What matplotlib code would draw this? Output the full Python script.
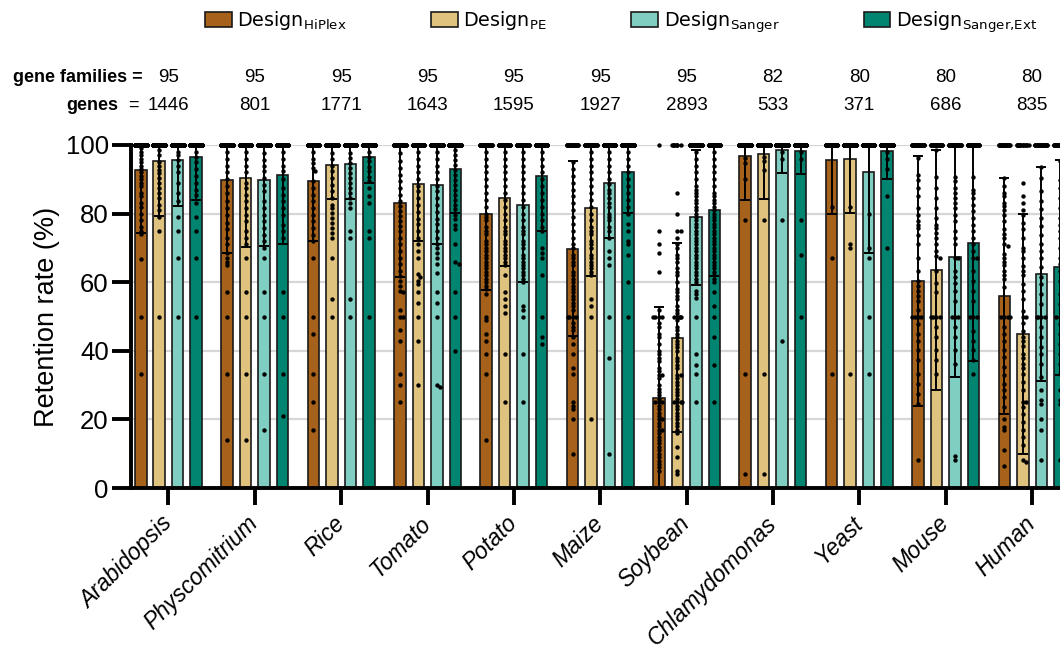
import numpy as np
import matplotlib
matplotlib.use("Agg")
import matplotlib.pyplot as plt
from matplotlib.patches import Patch

# ---------------- data ----------------
species = ["Arabidopsis", "Physcomitrium", "Rice", "Tomato", "Potato", "Maize",
           "Soybean", "Chlamydomonas", "Yeast", "Mouse", "Human"]
gene_families = [95, 95, 95, 95, 95, 95, 95, 82, 80, 80, 80]
genes = [1446, 801, 1771, 1643, 1595, 1927, 2893, 533, 371, 686, 835]

design_labels = [r"Design$_{\mathregular{HiPlex}}$", r"Design$_{\mathregular{PE}}$",
                 r"Design$_{\mathregular{Sanger}}$", r"Design$_{\mathregular{Sanger{,}Ext}}$"]
design_colors = ["#A6611A", "#DFC27D", "#80CDC1", "#018571"]

# mean retention rate (%) per species
mean_hiplex = [92.6, 89.8, 89.5, 83.0, 80.0, 69.7, 26.3, 96.9, 95.7, 60.4, 56.1]
mean_pe     = [95.3, 90.5, 94.1, 88.5, 84.5, 81.7, 43.8, 97.3, 95.8, 63.6, 44.8]
mean_sanger = [95.7, 89.7, 94.4, 88.4, 82.4, 88.8, 78.9, 98.4, 92.2, 67.3, 62.4]
mean_ext    = [96.4, 91.3, 96.4, 92.9, 90.9, 92.2, 81.0, 98.3, 98.2, 71.3, 64.3]

# standard deviation (%)
sd_hiplex = [18.2, 21.2, 17.6, 21.4, 22.3, 25.5, 26.6, 12.9, 15.8, 36.5, 34.4]
sd_pe     = [16.0, 20.2, 9.8, 16.5, 19.8, 19.8, 27.5, 13.0, 15.6, 35.0, 35.0]
sd_sanger = [13.4, 19.2, 10.1, 17.3, 22.4, 16.0, 19.7, 6.5, 23.8, 34.9, 31.1]
sd_ext    = [12.4, 20.3, 7.4, 12.8, 16.0, 11.9, 19.2, 6.8, 8.2, 34.3, 31.3]

# number of gene families with full (100 %) retention
n100_hiplex = [60, 55, 55, 40, 35, 22, 1, 75, 72, 30, 20]
n100_pe     = [65, 55, 60, 45, 40, 35, 8, 75, 72, 30, 15]
n100_sanger = [70, 58, 65, 45, 40, 50, 40, 78, 68, 35, 22]
n100_ext    = [75, 60, 75, 55, 55, 60, 40, 78, 76, 38, 25]

# retention rates (%) of the remaining gene families
dots_hiplex = [
    [99, 98, 97, 96, 95, 94, 93, 92, 91, 90, 89, 88, 86, 85, 83, 82, 80, 78, 76, 75, 74, 66.7, 50, 33.3],
    [98, 96, 94, 92, 90, 88, 86, 83.6, 81.6, 79.7, 77.3, 75.4, 73, 71, 68.6, 67, 66, 65, 57, 50, 33.3, 14],
    [98, 96, 94.7, 93.2, 92.3, 89.4, 87.4, 85.5, 83.6, 81.6, 79.7, 77.8, 75.8, 73.9, 72, 67, 50, 45, 33.3, 25, 17],
    [97.6, 95.2, 93.2, 91.3, 89.4, 87.4, 85.5, 83.6, 82.1, 80.7, 79.2, 77.8, 76.3, 74.9, 72.9, 71.0, 69.1,
     67.1, 65.2, 63.3, 61.8, 60.4, 58.9, 57.5, 57.0, 52, 50, 50, 46, 43, 33.3, 30, 25],
    [98, 96, 94, 92, 90, 88, 86, 84, 82, 80, 79, 78, 76, 75, 74, 72, 71, 70, 69, 68, 67, 66, 65, 64, 63,
     62, 61, 60, 59, 58, 56.5, 50, 49, 45, 43, 39, 33.3, 14],
    [95, 93, 91, 89, 87, 85, 83, 81, 79, 77, 75, 73, 71, 70, 68, 67, 66, 65, 63, 62, 61, 60, 59, 58, 57,
     56, 55, 54, 53, 52, 50, 50, 50, 50, 48, 47, 46, 44, 42, 39, 35, 33.3, 25, 24, 23, 20, 10],
    [75, 71, 68.6, 63, 52, 50, 50, 50, 50, 48, 47, 45, 44, 42, 40, 39, 38, 37, 35, 34, 33, 33, 32, 30,
     29, 28, 27, 26, 25, 25, 25, 24, 23, 22, 21, 20, 20, 19, 18, 17, 17, 16, 15, 14, 13, 12, 11, 10, 9,
     8, 7, 6, 5],
    [96.3, 94.7, 90, 78, 33.3, 4],
    [82, 67, 33.3],
    [96.1, 91.3, 89.9, 87.4, 85.0, 81.6, 79.7, 77.8, 76.8, 75.8, 73.9, 71.0, 67.0, 63.3, 60.4, 58.9, 57.5,
     56.0, 54.6, 52.0, 50, 50, 50, 50, 47.8, 44.9, 43.0, 40.1, 37.2, 33.3, 30.4, 27.5, 24.6, 8.2],
    [90.3, 88, 86, 85, 83.1, 82.1, 81, 79.7, 77.8, 75.4, 74, 72.9, 71, 70.5, 68.1, 67.1, 66, 65, 63.3, 62,
     60.9, 58.5, 50, 50, 50, 50, 46.9, 44.9, 43.0, 40.1, 38.2, 35.3, 32.9, 30.4, 28.5, 26.6, 23.7, 20.0,
     17.9, 16.9, 11.1, 6.3],
]
dots_pe = [
    [98.5, 97, 95, 94, 92.8, 91.8, 90.3, 89, 87.4, 86, 84.5, 82.6, 81, 79, 75, 50],
    [98, 96, 94, 92, 89, 87.4, 85.5, 83.6, 81.6, 79.7, 77.8, 75, 73, 71, 67, 57, 50, 33.3, 14],
    [97.6, 96, 94, 92.3, 90.3, 88.4, 86.5, 84.5, 82.6, 81.6, 80.2, 78.7, 77.3, 75.8, 74.4, 73, 67, 55, 50],
    [98, 96, 94, 92, 90, 88, 86.5, 84.5, 82.5, 80.5, 78.5, 77, 75, 73, 71, 69, 67, 62.3, 61.4, 60.4, 59.4,
     57, 54, 50, 43, 30],
    [98, 96, 94, 92, 90, 88, 86, 84, 82, 80, 78, 76, 75, 74, 72, 71, 70, 69, 68, 67, 66, 65, 62, 57, 55,
     53, 51, 39, 25],
    [98, 96, 94, 92, 90, 88, 86, 84, 82, 80, 78, 76, 75, 74, 72, 71, 70, 68, 67, 66, 65, 64, 63, 62, 55,
     53, 50, 20],
    [86, 80, 75, 75, 73, 71, 70, 68, 67, 66, 64, 63, 62, 60, 58, 57, 56, 55, 53, 52, 51, 50, 50, 50, 50,
     50, 49, 47, 46, 45, 44, 43, 42, 41, 40, 38, 37, 36, 35, 33, 33, 32, 31, 30, 29, 28, 27, 26, 25, 25,
     25, 25, 24, 23, 22, 21, 20, 19, 18, 17, 16, 12, 9, 5, 4],
    [96.6, 95.2, 92.8, 78, 33.3, 4],
    [82, 71, 70, 33.3],
    [98.6, 90.8, 87.4, 84.5, 81.6, 78.7, 76.8, 75.8, 74.4, 72.9, 71.0, 69.1, 67.6, 67.0, 63.3, 59.9, 57.0,
     50, 50, 50, 50, 46.9, 44.0, 40.1, 37.2, 33.3],
    [88.9, 85, 83, 81, 79.7, 77.3, 75.4, 72.9, 70.0, 69, 67.0, 64.7, 63.3, 62, 59.4, 57.5, 55, 51.7, 50, 50,
     48, 45.9, 44.0, 43, 41.5, 39.1, 38, 36.2, 35, 33.3, 30.9, 28.5, 25.1, 25.1, 23.7, 21.7, 19.3, 16.9,
     15.0, 12.6, 8.2, 7.7],
]
dots_sanger = [
    [98, 97, 95.6, 94, 92, 89, 86, 83.6, 79, 75, 67, 50],
    [97.6, 95.7, 94, 92.3, 90.3, 88.4, 86.5, 83.6, 81.6, 79.7, 77.8, 75.8, 73.9, 72, 70, 67, 57, 50, 33.3, 17],
    [97.6, 96.1, 94.7, 93.2, 91.8, 90.3, 88.9, 87.4, 86.0, 84.5, 83.1, 81.6, 75, 73, 55, 50],
    [98, 96, 94, 92, 90, 88, 86.5, 84.5, 82.5, 80.5, 78.5, 77, 75, 73, 71, 70, 68.6, 67, 65.2, 62.8, 57,
     54, 50, 30, 29.5],
    [98, 96, 94, 92, 90, 88, 86, 84, 82, 80, 78, 76, 75, 74, 72, 71, 70, 68, 67, 66, 65, 64, 63, 62, 61,
     60, 53, 52, 50, 39, 25],
    [98, 96, 94, 92, 90, 88.5, 87, 86, 84.5, 83, 82, 80, 79, 78, 76, 75, 73, 69, 67, 65, 50, 38, 10],
    [98, 96, 94, 92, 90, 88, 87, 86, 85, 84, 83, 82, 81, 80, 79, 78, 77, 76, 75, 74, 73, 72, 71, 70, 69,
     68, 67, 66, 65, 64, 63, 62, 61, 60, 57.5, 56.5, 55.5, 50, 39, 36, 33.3, 25],
    [98, 96, 78, 43],
    [80, 70, 67, 50, 33.3],
    [90.8, 89.4, 87.4, 86.0, 84.5, 83.1, 81.6, 79.7, 77.8, 74.9, 72.9, 71.0, 67.0, 67.0, 63.3, 61.4, 59.9,
     57.5, 54.6, 50, 50, 50, 46.9, 44.0, 40.1, 36.2, 9.2, 8.2],
    [93.7, 90.3, 86.5, 83.6, 81.2, 78.7, 76.3, 73.9, 71.0, 69.1, 67.0, 64.3, 61.4, 59.4, 56.5, 53.6, 50,
     50, 50, 50, 46.9, 44.0, 41.1, 39.1, 36.2, 32.4, 28.5, 25.6, 24.6, 20.0, 16.9, 8.2],
]
dots_ext = [
    [98, 96.6, 95, 93, 91, 89, 87, 85.5, 83, 79, 75, 67, 50],
    [98, 96, 94, 92.3, 90, 87.4, 85.5, 83.6, 81.6, 79.7, 76.8, 75, 73, 57, 50, 33.3, 21],
    [98.1, 96.6, 95.2, 93.7, 92.3, 90.8, 89.4, 87.4, 85.0, 83.1, 75, 73, 50],
    [98.6, 97.1, 95.7, 94.2, 92.8, 91.3, 89.9, 88.4, 87.0, 85.5, 84.1, 82.6, 81.2, 79.7, 78.3, 76.8, 75.4,
     71, 66, 65.2, 57, 50, 40],
    [98, 96, 94, 92, 90, 88, 86, 84, 82, 80, 78, 76, 75, 70, 68.6, 67, 62, 50, 44, 42],
    [98, 96, 94, 92, 90, 88, 86, 84, 82, 80, 77, 75, 72, 71, 68, 60, 50],
    [98, 96, 94, 92, 90, 88, 86, 85, 84, 83, 82, 81, 80, 79, 78, 77, 76, 75, 74, 73, 72, 71, 70, 69, 68,
     67, 66, 65, 64, 63, 62, 61, 60, 57, 53, 50, 44, 36, 25],
    [98, 96, 78, 68, 50],
    [98, 96, 93, 85, 70],
    [90.8, 87.0, 86.0, 84.5, 82.6, 80.7, 78.7, 76.8, 74.9, 72.9, 71.0, 69.1, 67.0, 67.0, 63.3, 60.4, 57.5,
     54.6, 50, 50, 50, 45.9, 43.0, 40.1, 37.2, 33.3],
    [95.2, 89.9, 87.4, 84.5, 81.6, 78.7, 76.8, 74.9, 72.9, 70.0, 67.0, 65.2, 63.3, 60.4, 56.5, 53.6, 50,
     50, 50, 50, 47.8, 44.9, 42.0, 39.1, 36.2, 33.3, 28.5, 25.6, 24.6, 8.2],
]

means = [mean_hiplex, mean_pe, mean_sanger, mean_ext]
sds = [sd_hiplex, sd_pe, sd_sanger, sd_ext]
n100s = [n100_hiplex, n100_pe, n100_sanger, n100_ext]
dots = [dots_hiplex, dots_pe, dots_sanger, dots_ext]

# ---------------- figure ----------------
plt.rcParams["font.family"] = ["Liberation Sans", "DejaVu Sans"]
plt.rcParams["mathtext.default"] = "regular"

W, H = 1060, 651
fig = plt.figure(figsize=(W / 100, H / 100), dpi=100)
ax_left, ax_bottom = 131 / W, 1 - 488 / H
ax_w, ax_h = 1 - ax_left, (488 - 145) / H
ax = fig.add_axes([ax_left, ax_bottom, ax_w, ax_h])

x = np.arange(len(species))
pitch = 0.214
bar_w = 0.133
offsets = (np.arange(4) - 1.5) * pitch
x_min, x_max = -0.434, 10.324
ax.set_xlim(x_min, x_max)
ax.set_ylim(0, 100)

px_per_x = ax_w * W / (x_max - x_min)
px_per_y = ax_h * H / 100.0


def swarm(values, dot_px=3.4, half_px=5.8):
    """Beeswarm-like horizontal offsets (in pixels) for one column of dots."""
    vals = np.asarray(values, dtype=float)
    order = np.argsort(-vals, kind="stable")
    ys = vals[order] * px_per_y
    placed_x, placed_y = [], []
    out = np.zeros(len(vals))
    step = dot_px / 2.0
    cands = [0.0]
    k = 1
    while k * step <= half_px:
        cands += [k * step, -k * step]
        k += 1
    overflow = 0
    fill = np.linspace(-half_px, half_px, 9)
    for idx, y in zip(order, ys):
        px_arr = np.array(placed_x)
        py_arr = np.array(placed_y)
        chosen = None
        for c in cands:
            if len(px_arr) == 0:
                chosen = c
                break
            near = np.abs(py_arr - y) < dot_px
            if not near.any():
                chosen = c
                break
            d2 = (px_arr[near] - c) ** 2 + (py_arr[near] - y) ** 2
            if (d2 >= (dot_px * 0.95) ** 2).all():
                chosen = c
                break
        if chosen is None:
            chosen = fill[overflow % len(fill)]
            overflow += 1
        placed_x.append(chosen)
        placed_y.append(y)
        out[idx] = chosen
    return out


# grid
for gy in [20, 40, 60, 80, 100]:
    ax.axhline(gy, color="#d6d6d6", lw=1.6, zorder=0)

for j in range(4):
    xpos = x + offsets[j]
    m = np.array(means[j])
    s = np.array(sds[j])
    ax.bar(xpos, m, width=bar_w, color=design_colors[j], edgecolor="#1a1a1a",
           linewidth=1.2, zorder=2, label=design_labels[j])
    # individual gene families
    for i in range(len(species)):
        vals = [100.0] * n100s[j][i] + list(dots[j][i])
        off = swarm(vals)
        ax.scatter(xpos[i] + off / px_per_x, vals, s=10, color="black",
                   linewidths=0, zorder=3, clip_on=False)
    lower = np.minimum(s, m)
    upper = np.minimum(s, 100 - m)
    ax.errorbar(xpos, m, yerr=[lower, upper], fmt="none", ecolor="black",
                elinewidth=1.4, capsize=3.6, capthick=1.4, zorder=4)

# axes styling
for side in ["top", "right"]:
    ax.spines[side].set_visible(False)
for side in ["left", "bottom"]:
    ax.spines[side].set_linewidth(2.8)
    ax.spines[side].set_color("black")
    ax.spines[side].set_zorder(5)

ax.set_yticks([0, 20, 40, 60, 80, 100])
ax.tick_params(axis="y", length=14, width=2.8, labelsize=18.5, pad=2)
ax.set_xticks(x)
ax.set_xticklabels(species, rotation=45, ha="right", va="center",
                   rotation_mode="anchor", fontsize=16.5, style="italic")
ax.tick_params(axis="x", length=12, width=2.8, pad=11)
ax.set_ylabel("Retention rate (%)", fontsize=19.5, labelpad=4)

# counts above the bars
for i in range(len(species)):
    ax.text(x[i], (488 - 77) / 343, str(gene_families[i]), transform=ax.get_xaxis_transform(),
            ha="center", va="center", fontsize=13.5, clip_on=False)
    ax.text(x[i], (488 - 105) / 343, str(genes[i]), transform=ax.get_xaxis_transform(),
            ha="center", va="center", fontsize=13.5, clip_on=False)
fig.text(143 / W, 1 - 77 / H, "gene families =", ha="right", va="center",
         fontsize=13, fontweight="bold")
fig.text(118 / W, 1 - 105 / H, "genes", ha="right", va="center",
         fontsize=13, fontweight="bold")
fig.text(133 / W, 1 - 105 / H, "=", ha="center", va="center", fontsize=13)

# legend
handles = [Patch(facecolor=c, edgecolor="#1a1a1a", linewidth=1.2) for c in design_colors]
fig.legend(handles, design_labels, loc="center left", bbox_to_anchor=(205 / W, 1 - 22 / H),
           ncol=4, frameon=False, prop={"family": "DejaVu Sans", "size": 13.8},
           handlelength=1.4, handleheight=0.8, handletextpad=0.28, columnspacing=4.4,
           borderpad=0, borderaxespad=0)

fig.savefig("out.png", dpi=100)
